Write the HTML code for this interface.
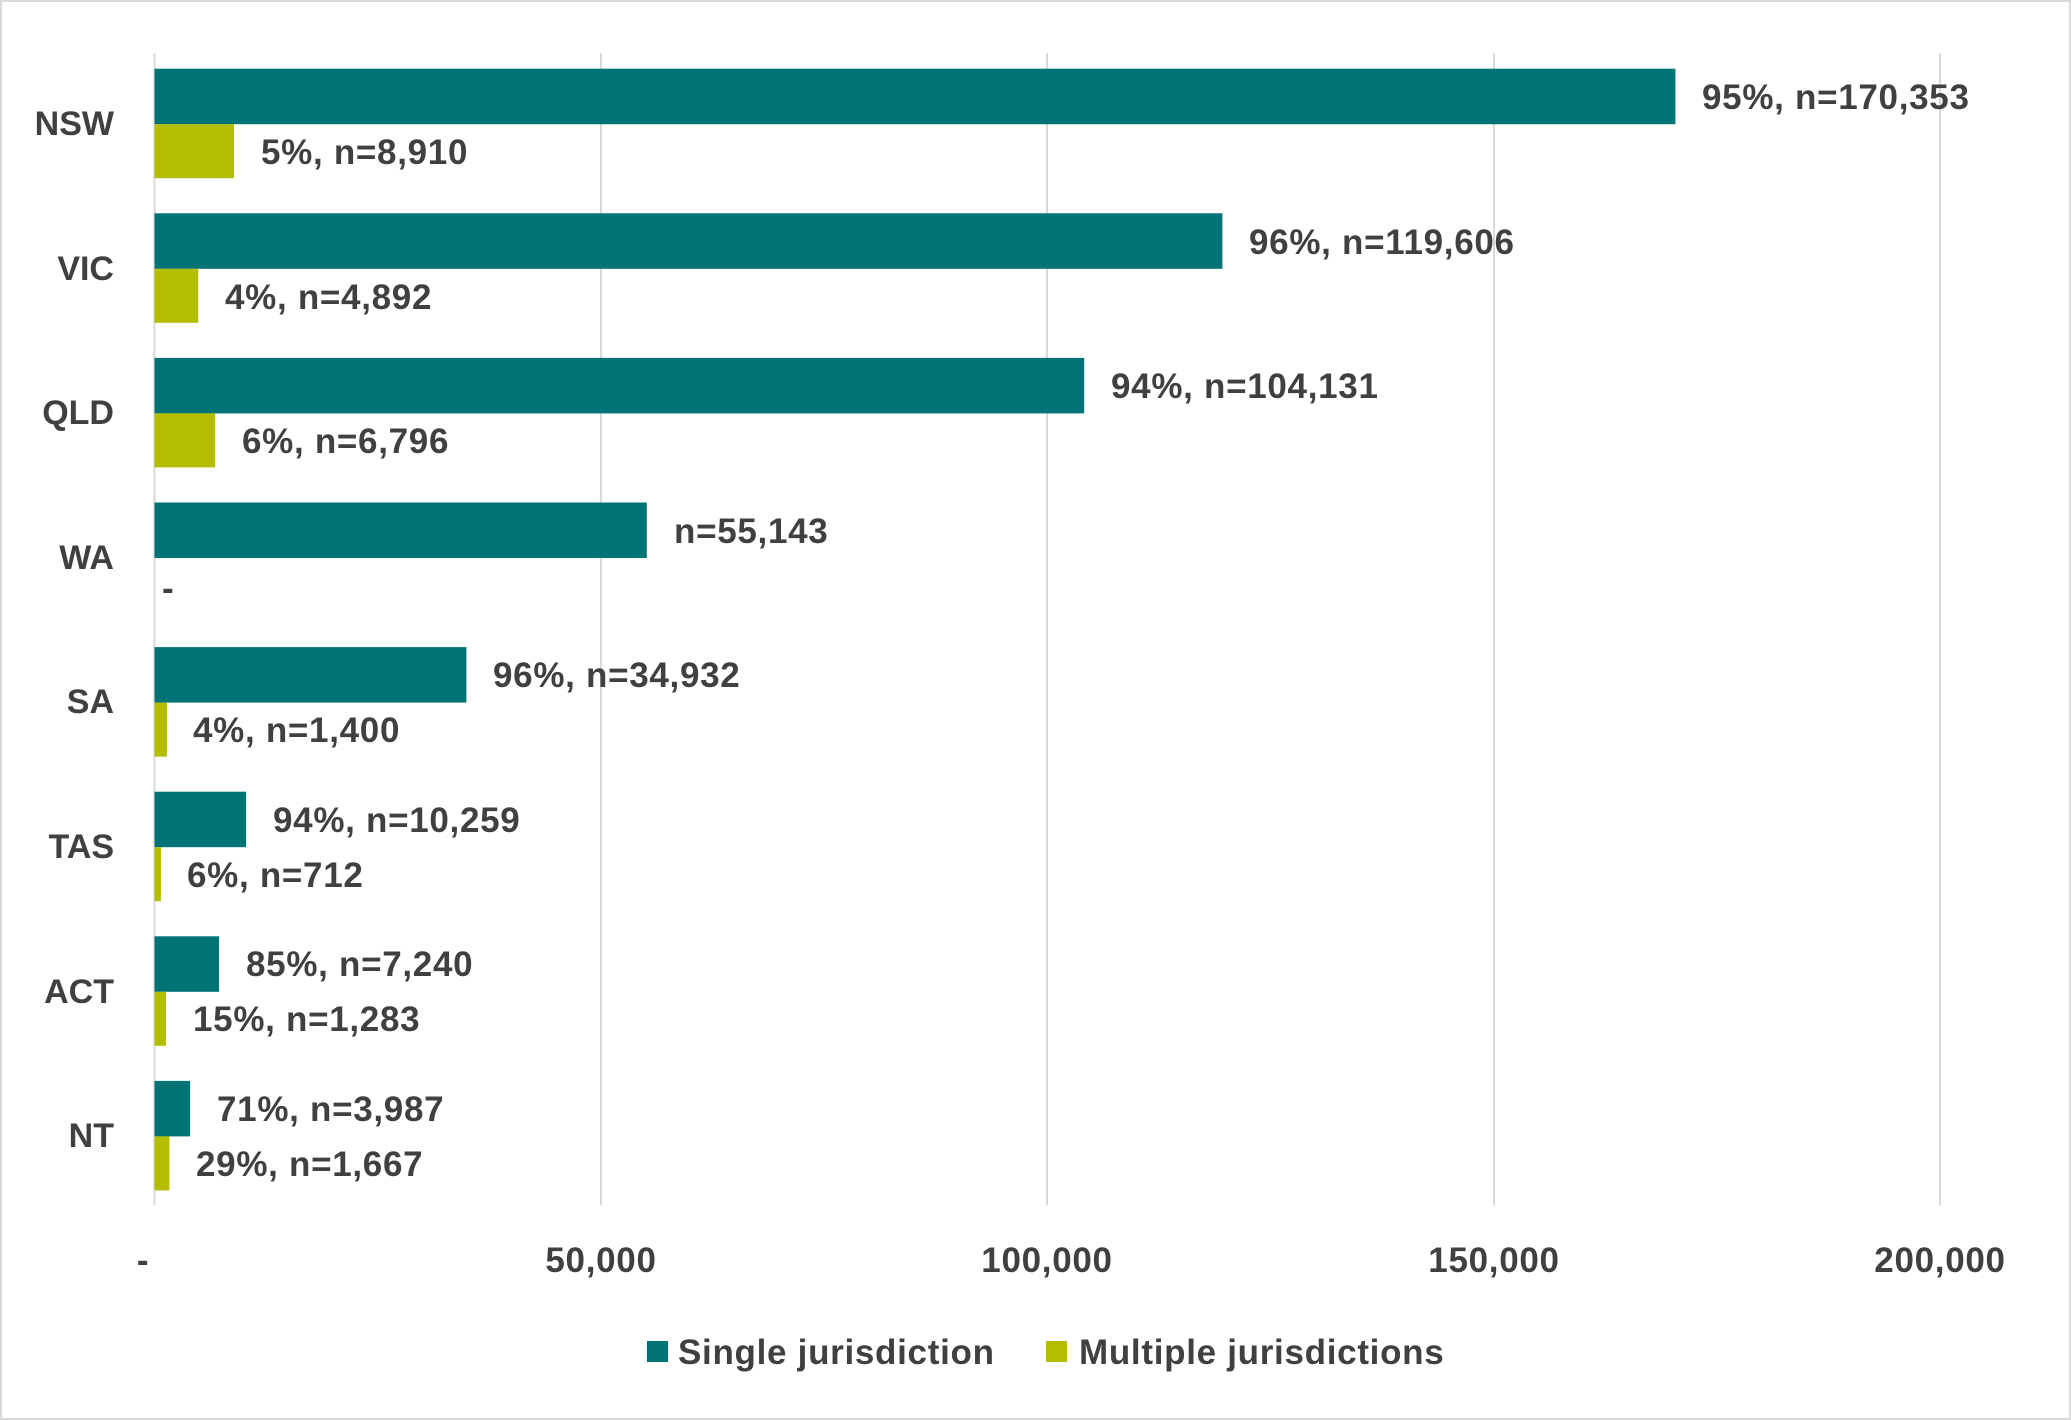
<!DOCTYPE html>
<html><head><meta charset="utf-8"><style>
body{margin:0;background:#fff}
svg{display:block}
text{font-family:"Liberation Sans",sans-serif;font-weight:bold;fill:#404040}
.d{font-size:35px;letter-spacing:0.7px}
</style></head><body>
<svg width="2071" height="1420" viewBox="0 0 2071 1420">
<rect x="1" y="1" width="2069" height="1418" fill="#fff" stroke="#d9d9d9" stroke-width="2"/>
<g stroke="#d9d9d9" stroke-width="2">
<line x1="154.5" y1="53" x2="154.5" y2="1205"/>
<line x1="601" y1="53" x2="601" y2="1205"/>
<line x1="1047" y1="53" x2="1047" y2="1205"/>
<line x1="1494" y1="53" x2="1494" y2="1205"/>
<line x1="1940" y1="53" x2="1940" y2="1205"/>
</g>
<g class="d" text-anchor="middle">
<text x="143" y="1272">-</text>
<text x="601" y="1272">50,000</text>
<text x="1047" y="1272">100,000</text>
<text x="1494" y="1272">150,000</text>
<text x="1940" y="1272">200,000</text>
</g>
<g class="d">
<rect x="154.5" y="68.7" width="1520.9" height="55.5" fill="#007377"/>
<rect x="154.5" y="124.2" width="79.5" height="54" fill="#B5BD00"/>
<text x="1702" y="109">95%, n=170,353</text>
<text x="261" y="164">5%, n=8,910</text>
<rect x="154.5" y="213.3" width="1067.9" height="55.5" fill="#007377"/>
<rect x="154.5" y="268.8" width="43.7" height="54" fill="#B5BD00"/>
<text x="1249" y="254">96%, n=119,606</text>
<text x="225" y="309">4%, n=4,892</text>
<rect x="154.5" y="357.9" width="929.7" height="55.5" fill="#007377"/>
<rect x="154.5" y="413.4" width="60.7" height="54" fill="#B5BD00"/>
<text x="1111" y="398">94%, n=104,131</text>
<text x="242" y="453">6%, n=6,796</text>
<rect x="154.5" y="502.5" width="492.3" height="55.5" fill="#007377"/>
<text x="674" y="543">n=55,143</text>
<text x="162" y="600">-</text>
<rect x="154.5" y="647.1" width="311.9" height="55.5" fill="#007377"/>
<rect x="154.5" y="702.6" width="12.5" height="54" fill="#B5BD00"/>
<text x="493" y="687">96%, n=34,932</text>
<text x="193" y="742">4%, n=1,400</text>
<rect x="154.5" y="791.7" width="91.6" height="55.5" fill="#007377"/>
<rect x="154.5" y="847.2" width="6.4" height="54" fill="#B5BD00"/>
<text x="273" y="832">94%, n=10,259</text>
<text x="187" y="887">6%, n=712</text>
<rect x="154.5" y="936.3" width="64.6" height="55.5" fill="#007377"/>
<rect x="154.5" y="991.8" width="11.5" height="54" fill="#B5BD00"/>
<text x="246" y="976">85%, n=7,240</text>
<text x="193" y="1031">15%, n=1,283</text>
<rect x="154.5" y="1080.9" width="35.6" height="55.5" fill="#007377"/>
<rect x="154.5" y="1136.4" width="14.9" height="54" fill="#B5BD00"/>
<text x="217" y="1121">71%, n=3,987</text>
<text x="196" y="1176">29%, n=1,667</text>
</g>
<g font-size="34" text-anchor="end">
<text x="114" y="135">NSW</text>
<text x="114" y="280">VIC</text>
<text x="114" y="424">QLD</text>
<text x="114" y="569">WA</text>
<text x="114" y="713">SA</text>
<text x="114" y="858">TAS</text>
<text x="114" y="1003">ACT</text>
<text x="114" y="1147">NT</text>
</g>
<rect x="647" y="1341" width="21" height="21" fill="#007377"/>
<text class="d" x="678" y="1364">Single jurisdiction</text>
<rect x="1046" y="1341" width="21" height="21" fill="#B5BD00"/>
<text class="d" x="1079" y="1364">Multiple jurisdictions</text>
</svg>
</body></html>
